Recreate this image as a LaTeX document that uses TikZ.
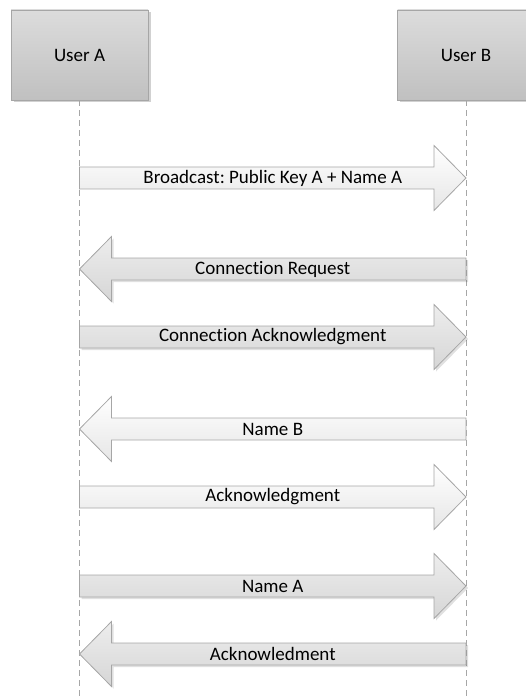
\documentclass[tikz,border=0pt]{standalone}
\usepackage{fontspec}
\setmainfont[Ligatures=NoCommon]{Carlito}
\usetikzlibrary{calc,shadows}

\definecolor{edge}{HTML}{A6A6A6}
\definecolor{boxtop}{HTML}{DCDCDC}
\definecolor{boxbot}{HTML}{C0C0C0}
\definecolor{greytop}{HTML}{EDEDED}
\definecolor{greybot}{HTML}{D6D6D6}
\definecolor{palebot}{HTML}{E6E6E6}

\tikzset{
  actor/.style={draw=edge, line width=0.8pt, top color=boxtop, bottom color=boxbot,
    minimum width=137pt, minimum height=90pt, inner sep=0pt,
    drop shadow={shadow xshift=2.5pt, shadow yshift=-2.5pt, opacity=0.18, fill=black},
    font=\fontsize{19}{23}\selectfont},
  lifeline/.style={draw=edge, line width=0.9pt, dash pattern=on 6pt off 4pt},
  msgtext/.style={font=\fontsize{19}{23}\selectfont, inner sep=0pt},
  % block arrow pointing right, tail on the start point, tip on the target
  toright/.style={to path={let \p1=(\tikztostart), \p2=(\tikztotarget) in
    (\x1,\y1+11pt) -- (\x2-32pt,\y1+11pt) -- (\x2-32pt,\y1+32.5pt) -- (\x2,\y1)
    -- (\x2-32pt,\y1-32.5pt) -- (\x2-32pt,\y1-11pt) -- (\x1,\y1-11pt) -- cycle}},
  % block arrow pointing left
  toleft/.style={to path={let \p1=(\tikztostart), \p2=(\tikztotarget) in
    (\x1,\y1+11pt) -- (\x2+32pt,\y1+11pt) -- (\x2+32pt,\y1+32.5pt) -- (\x2,\y1)
    -- (\x2+32pt,\y1-32.5pt) -- (\x2+32pt,\y1-11pt) -- (\x1,\y1-11pt) -- cycle}},
  palemsg/.style={draw=edge, line width=0.8pt, top color=white, bottom color=palebot},
  greymsg/.style={draw=edge, line width=0.8pt, top color=greytop, bottom color=greybot,
    drop shadow={shadow xshift=2pt, shadow yshift=-2pt, opacity=0.12, fill=black}},
}

\begin{document}
\frenchspacing
\begin{tikzpicture}[x=1pt, y=-1pt]
\useasboundingbox (0,0) rectangle (525,700);

% participants
\node[actor] (A) at (79.5,55) {User A};
\node[actor] (B) at (466,55) {User B};

% lifelines
\coordinate (endA) at (79.5,700);
\coordinate (endB) at (466,700);
\draw[lifeline] (A.south) -- (endA);
\draw[lifeline] (B.south) -- (endB);

% message anchor points on the lifelines
\foreach \n/\y in {1/178, 2/269, 3/337, 4/429, 5/497, 6/586, 7/654} {
  \coordinate (a\n) at (79.5,\y);
  \coordinate (b\n) at (466,\y);
}

% messages
\draw[palemsg, toright] (a1) to (b1);
\node[msgtext] (m1) at ($(a1)!0.5!(b1)$) {Broadcast: Public Key A + Name A};

\draw[greymsg, toleft] (b2) to (a2);
\node[msgtext] (m2) at ($(a2)!0.5!(b2)$) {Connection Request};

\draw[greymsg, toright] (a3) to (b3);
\node[msgtext] (m3) at ($(a3)!0.5!(b3)$) {Connection Acknowledgment};

\draw[palemsg, toleft] (b4) to (a4);
\node[msgtext] (m4) at ($(a4)!0.5!(b4)$) {Name B};

\draw[palemsg, toright] (a5) to (b5);
\node[msgtext] (m5) at ($(a5)!0.5!(b5)$) {Acknowledgment};

\draw[greymsg, toright] (a6) to (b6);
\node[msgtext] (m6) at ($(a6)!0.5!(b6)$) {Name A};

\draw[greymsg, toleft] (b7) to (a7);
\node[msgtext] (m7) at ($(a7)!0.5!(b7)$) {Acknowledment};
\end{tikzpicture}
\end{document}
